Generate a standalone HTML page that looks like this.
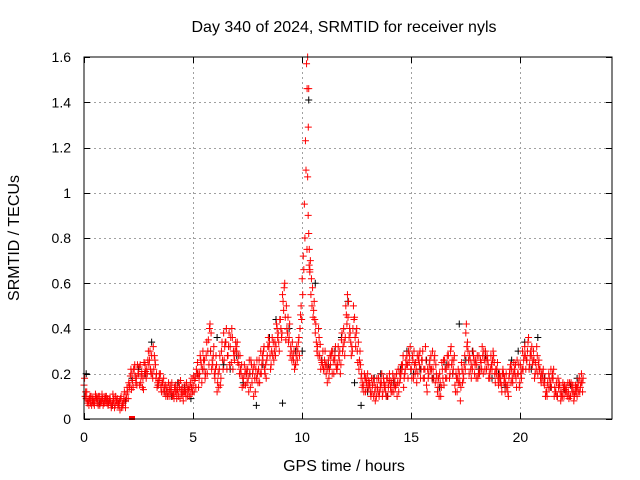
<!DOCTYPE html>
<html><head><meta charset="utf-8"><style>
body{margin:0;background:#fff;}
svg{display:block;font-family:"Liberation Sans",sans-serif;font-size:14px;}
.big{font-size:16px;}
</style></head><body>
<svg id="chart" width="640" height="480" viewBox="0 0 640 480" xmlns="http://www.w3.org/2000/svg">
<rect width="640" height="480" fill="#fff"/>
<text class="big" x="344" y="32" text-anchor="middle">Day 340 of 2024, SRMTID for receiver nyls</text>
<text class="big" transform="translate(19,238) rotate(-90)" text-anchor="middle">SRMTID / TECUs</text>
<text class="big" x="344" y="471" text-anchor="middle">GPS time / hours</text>
<g id="grid"></g>
<g id="ticks"></g>
<g id="marks"></g>
<rect x="84" y="57" width="528" height="362" fill="none" stroke="#000" stroke-width="1"/>
</svg>
<script>
const xTicks=[0,5,10,15,20];
const yTicks=[0,0.2,0.4,0.6,0.8,1,1.2,1.4,1.6];
const yTickLabels=["0","0.2","0.4","0.6","0.8","1","1.2","1.4","1.6"];
const redA=[0.15,0.09,0.08,0.07,0.09,0.08,0.07,0.10,0.08,0.07,
0.08,0.06,0.09,0.07,0.05,0.08,0.06,0.10,0.07,0.05,
0.12,0.15,0.20,0.22,0.18,0.20,0.16,0.18,0.24,0.20,
0.26,0.28,0.22,0.18,0.15,0.20,0.16,0.12,0.14,0.10,
0.13,0.11,0.15,0.12,0.09,0.14,0.12,0.16,0.13,0.11,
0.15,0.18,0.25,0.20,0.16,0.22,0.28,0.35,0.30,0.24,
0.18,0.12,0.22,0.30,0.38,0.34,0.28,0.32,0.36,0.26,
0.30,0.24,0.20,0.18,0.15,0.22,0.20,0.16,0.24,0.18,
0.22,0.30,0.26,0.20,0.28,0.34,0.30,0.26,0.32,0.38,
0.44,0.55,0.60,0.40,0.36,0.30,0.26,0.24,0.30,0.40,
0.62,0.95,1.57,0.82,0.55,0.45,0.38,0.32,0.28,0.25,
0.22,0.20,0.26,0.24,0.30,0.28,0.22,0.26,0.35,0.40,
0.50,0.45,0.38,0.30,0.45,0.40,0.22,0.18,0.15,0.12,
0.20,0.15,0.12,0.16,0.10,0.18,0.14,0.12,0.15,0.18,
0.20,0.16,0.12,0.15,0.22,0.18,0.24,0.20,0.28,0.25,
0.22,0.18,0.25,0.20,0.30,0.26,0.18,0.15,0.20,0.28,
0.22,0.16,0.12,0.20,0.25,0.15,0.22,0.28,0.30,0.20,
0.15,0.12,0.20,0.25,0.18,0.38,0.30,0.26,0.22,0.20,
0.24,0.28,0.25,0.20,0.30,0.26,0.18,0.22,0.25,0.20,
0.15,0.18,0.22,0.12,0.15,0.20,0.22,0.25,0.18,0.20,
0.24,0.30,0.32,0.26,0.22,0.28,0.30,0.25,0.20,0.22,
0.18,0.15,0.12,0.20,0.22,0.18,0.12,0.10,0.15,0.12,
0.10,0.14,0.12,0.10,0.15,0.12,0.10,0.18,0.20];
const redB=[0.10,0.07,0.09,0.06,0.08,0.10,0.06,0.08,0.09,0.07,
0.07,0.09,0.05,0.08,0.10,0.06,0.04,0.07,0.12,0.09,
0.16,0.22,0.14,0.19,0.24,0.15,0.21,0.25,0.18,0.30,
0.22,0.18,0.26,0.14,0.20,0.12,0.18,0.10,0.12,0.15,
0.10,0.14,0.09,0.16,0.13,0.08,0.12,0.10,0.14,0.18,
0.12,0.22,0.14,0.26,0.30,0.18,0.20,0.40,0.22,0.32,
0.28,0.20,0.15,0.26,0.32,0.22,0.38,0.25,0.30,0.34,
0.25,0.28,0.14,0.24,0.20,0.12,0.26,0.22,0.12,0.20,
0.16,0.24,0.32,0.18,0.36,0.22,0.28,0.34,0.40,0.30,
0.36,0.48,0.35,0.45,0.28,0.34,0.22,0.32,0.36,0.50,
0.72,1.23,1.07,0.66,0.50,0.52,0.34,0.40,0.22,0.30,
0.30,0.16,0.22,0.30,0.20,0.24,0.32,0.20,0.30,0.28,
0.42,0.36,0.28,0.50,0.32,0.25,0.30,0.14,0.20,0.16,
0.14,0.10,0.18,0.08,0.14,0.12,0.20,0.16,0.10,0.14,
0.14,0.20,0.18,0.10,0.16,0.24,0.14,0.26,0.18,0.32,
0.28,0.24,0.16,0.28,0.22,0.18,0.32,0.22,0.26,0.18,
0.26,0.20,0.18,0.10,0.18,0.22,0.28,0.18,0.24,0.26,
0.20,0.22,0.08,0.16,0.28,0.32,0.20,0.18,0.28,0.26,
0.18,0.22,0.32,0.26,0.22,0.18,0.28,0.30,0.16,0.25,
0.20,0.12,0.16,0.20,0.10,0.24,0.16,0.20,0.26,0.14,
0.18,0.26,0.22,0.34,0.28,0.24,0.18,0.32,0.26,0.16,
0.22,0.10,0.16,0.14,0.18,0.10,0.16,0.14,0.08,0.16,
0.13,0.10,0.16,0.14,0.08,0.12,0.16,0.14,0.12];
const redC=[0.18,0.12,0.06,0.10,0.07,0.11,0.09,0.06,0.11,0.09,
0.10,0.07,0.07,0.11,0.06,0.09,0.08,0.05,0.09,0.11,
0.09,0.19,0.17,0.24,0.15,0.23,0.19,0.13,0.21,0.26,
0.30,0.20,0.28,0.20,0.17,0.14,0.12,0.15,0.10,0.13,
0.16,0.09,0.12,0.10,0.17,0.11,0.15,0.13,0.10,0.14,
0.19,0.14,0.20,0.28,0.22,0.26,0.34,0.24,0.38,0.28,
0.22,0.16,0.28,0.34,0.26,0.40,0.32,0.36,0.22,0.30,
0.34,0.20,0.24,0.15,0.22,0.18,0.14,0.20,0.18,0.26,
0.26,0.20,0.30,0.24,0.32,0.28,0.36,0.30,0.42,0.34,
0.40,0.52,0.45,0.38,0.42,0.26,0.30,0.28,0.34,0.46,
0.55,0.80,1.46,0.75,0.62,0.48,0.42,0.28,0.33,0.24,
0.26,0.24,0.18,0.28,0.26,0.32,0.24,0.30,0.38,0.34,
0.46,0.52,0.34,0.40,0.36,0.30,0.26,0.20,0.12,0.18,
0.17,0.12,0.15,0.12,0.18,0.10,0.16,0.18,0.12,0.10,
0.17,0.12,0.15,0.20,0.12,0.20,0.28,0.22,0.24,0.28,
0.18,0.30,0.22,0.26,0.18,0.30,0.22,0.12,0.24,0.22,
0.18,0.24,0.14,0.16,0.22,0.26,0.18,0.24,0.32,0.22,
0.12,0.18,0.16,0.22,0.24,0.42,0.26,0.22,0.30,0.24,
0.28,0.20,0.22,0.30,0.26,0.24,0.22,0.26,0.20,0.22,
0.18,0.15,0.20,0.16,0.12,0.22,0.18,0.22,0.14,0.24,
0.20,0.22,0.28,0.30,0.24,0.32,0.26,0.22,0.24,0.18,
0.20,0.18,0.10,0.18,0.14,0.22,0.12,0.18,0.12,0.10,
0.15,0.12,0.09,0.16,0.12,0.15,0.14,0.12,0.16];
const redD=[0.12,0.08,0.10,0.08,0.06,0.09,0.10,0.07,0.06,0.10,
0.09,0.08,0.06,0.09,0.08,0.07,0.09,0.06,0.08,0.14,
0.14,0.13,0.22,0.16,0.20,0.24,0.14,0.20,0.22,0.24,
0.20,0.32,0.24,0.16,0.18,0.16,0.14,0.12,0.16,0.12,
0.11,0.12,0.13,0.14,0.11,0.12,0.10,0.14,0.16,0.12,
0.17,0.20,0.18,0.24,0.26,0.20,0.30,0.42,0.26,0.20,
0.24,0.14,0.18,0.22,0.34,0.28,0.24,0.40,0.28,0.32,
0.28,0.22,0.18,0.20,0.16,0.26,0.24,0.10,0.22,0.16,
0.20,0.28,0.22,0.26,0.32,0.24,0.34,0.28,0.36,0.44,
0.38,0.58,0.50,0.34,0.32,0.28,0.24,0.26,0.28,0.44,
0.66,1.10,0.90,0.70,0.58,0.44,0.30,0.36,0.26,0.22,
0.24,0.22,0.28,0.20,0.26,0.22,0.28,0.24,0.32,0.36,
0.55,0.40,0.32,0.44,0.38,0.34,0.24,0.16,0.18,0.14,
0.16,0.18,0.10,0.14,0.12,0.16,0.10,0.14,0.18,0.16,
0.12,0.18,0.14,0.16,0.20,0.22,0.18,0.24,0.30,0.22,
0.26,0.20,0.28,0.24,0.26,0.22,0.26,0.18,0.22,0.30,
0.28,0.18,0.10,0.14,0.26,0.18,0.24,0.20,0.26,0.28,
0.18,0.16,0.14,0.20,0.22,0.34,0.28,0.24,0.26,0.18,
0.20,0.26,0.28,0.22,0.28,0.20,0.24,0.28,0.22,0.18,
0.16,0.20,0.18,0.14,0.18,0.16,0.20,0.24,0.20,0.16,
0.22,0.28,0.26,0.36,0.30,0.26,0.20,0.28,0.22,0.20,
0.16,0.12,0.14,0.16,0.20,0.14,0.10,0.16,0.10,0.14,
0.12,0.16,0.10,0.12,0.10,0.14,0.12,0.16,0.18];
const peakTimes=[10.25,10.3,10.28,10.22,10.35,10.32];
const peakValues=[1.60,1.46,1.29,0.75,0.65,0.68];
const black=[0.20,0.08,0.07,0.09,0.06,0.07,0.08,0.18,0.22,0.20,0.34,0.15,0.12,0.10,0.16,0.14,0.09,0.20,0.22,0.30,0.36,0.24,0.22,0.28,0.16,0.20,0.06,0.24,0.36,0.44,0.07,0.40,0.30,0.30,1.41,0.60,0.26,0.24,0.30,0.36,0.52,0.16,0.06,0.12,0.18,0.20,0.10,0.16,0.22,0.30,0.20,0.22,0.26,0.18,0.14,0.24,0.20,0.42,0.26,0.30,0.22,0.28,0.18,0.20,0.14,0.26,0.30,0.34,0.22,0.36,0.18,0.14,0.10,0.12,0.15,0.18];
const L=84,R=612,T=57,B=419,XMAX=24.2,YMAX=1.6;
const xs=t=>L+t/XMAX*(R-L);
const ys=v=>B-v/YMAX*(B-T);
const NS="http://www.w3.org/2000/svg";
function mk(tag,attrs,parent){const e=document.createElementNS(NS,tag);for(const k in attrs)e.setAttribute(k,attrs[k]);parent.appendChild(e);return e;}
const grid=document.getElementById('grid'),ticks=document.getElementById('ticks'),marks=document.getElementById('marks');
xTicks.forEach(t=>{const x=Math.round(xs(t))+0.5;
 if(t>0){const g=mk('line',{x1:x,x2:x,y1:T,y2:B,stroke:'#a0a0a0','stroke-dasharray':'2,3'},grid);
 
 }
 mk('line',{x1:x,x2:x,y1:B,y2:B-6,stroke:'#000'},ticks);
 mk('line',{x1:x,x2:x,y1:T,y2:T+6,stroke:'#000'},ticks);
 const tx=mk('text',{x:xs(t),y:B+23,'text-anchor':'middle'},ticks);tx.textContent=t;
 
 
});
yTicks.forEach((v,i)=>{const y=Math.round(ys(v))+0.5;
 if(v>0&&v<YMAX){const g=mk('line',{x1:L,x2:R,y1:y,y2:y,stroke:'#a0a0a0','stroke-dasharray':'2,3'},grid);
 
 }
 mk('line',{x1:L,x2:L+6,y1:y,y2:y,stroke:'#000'},ticks);
 mk('line',{x1:R,x2:R-6,y1:y,y2:y,stroke:'#000'},ticks);
 const tx=mk('text',{x:71,y:ys(v)+5,'text-anchor':'end'},ticks);tx.textContent=yTickLabels[i];
 
 
});
function plus(t,v,c,name){const x=xs(t),y=ys(v);
 const p=mk('path',{d:`M${x-3.5},${y}h7M${x},${y-3.5}v7`,stroke:c,'stroke-width':1,fill:'none'},marks);
 
 }
black.forEach((v,i)=>plus(i*0.3+0.1,v,'#000','black-point'));
redA.forEach((v,i)=>plus(i*0.1,v,'#f00','red-point'));
redB.forEach((v,i)=>plus(i*0.1+0.05,v,'#f00','red-point'));
redC.forEach((v,i)=>plus(i*0.1+0.025,v,'#f00','red-point'));
redD.forEach((v,i)=>plus(i*0.1+0.075,v,'#f00','red-point'));
peakTimes.forEach((t,i)=>plus(t,peakValues[i],'#f00','red-peak-point'));
const sq=mk('rect',{x:xs(2.2)-3,y:ys(0)-3,width:6,height:4,fill:'#f00'},marks);


</script>
</body></html>
